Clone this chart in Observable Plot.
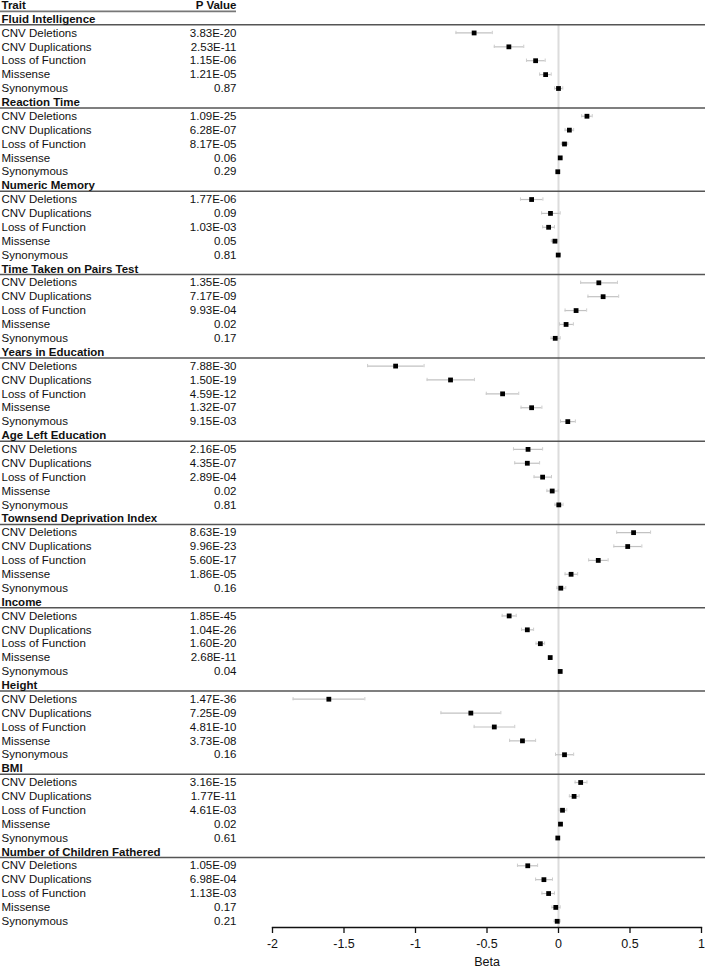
<!DOCTYPE html>
<html>
<head>
<meta charset="utf-8">
<script src="https://cdn.jsdelivr.net/npm/d3@7"></script>
<script src="https://cdn.jsdelivr.net/npm/@observablehq/plot@0.6"></script>
<style>
  html, body { margin: 0; padding: 0; background: #fff; }
  #chart svg { display: block; font-family: "Liberation Sans", Arial, sans-serif; }
</style>
</head>
<body>
<div id="chart"></div>
<script>
const traits = [
  "Fluid Intelligence", "Reaction Time", "Numeric Memory", "Time Taken on Pairs Test",
  "Years in Education", "Age Left Education", "Townsend Deprivation Index", "Income",
  "Height", "BMI", "Number of Children Fathered"
];
const variantTypes = ["CNV Deletions", "CNV Duplications", "Loss of Function", "Missense", "Synonymous"];
const pValues = [
  ["3.83E-20", "2.53E-11", "1.15E-06", "1.21E-05", "0.87"],
  ["1.09E-25", "6.28E-07", "8.17E-05", "0.06", "0.29"],
  ["1.77E-06", "0.09", "1.03E-03", "0.05", "0.81"],
  ["1.35E-05", "7.17E-09", "9.93E-04", "0.02", "0.17"],
  ["7.88E-30", "1.50E-19", "4.59E-12", "1.32E-07", "9.15E-03"],
  ["2.16E-05", "4.35E-07", "2.89E-04", "0.02", "0.81"],
  ["8.63E-19", "9.96E-23", "5.60E-17", "1.86E-05", "0.16"],
  ["1.85E-45", "1.04E-26", "1.60E-20", "2.68E-11", "0.04"],
  ["1.47E-36", "7.25E-09", "4.81E-10", "3.73E-08", "0.16"],
  ["3.16E-15", "1.77E-11", "4.61E-03", "0.02", "0.61"],
  ["1.05E-09", "6.98E-04", "1.13E-03", "0.17", "0.21"]
];
const betas = [
  [-0.59, -0.347, -0.16, -0.09, 0.0],
  [0.199, 0.076, 0.042, 0.012, -0.005],
  [-0.188, -0.056, -0.069, -0.025, -0.002],
  [0.282, 0.312, 0.123, 0.053, -0.023],
  [-1.139, -0.755, -0.391, -0.188, 0.065],
  [-0.213, -0.218, -0.111, -0.044, 0.002],
  [0.525, 0.484, 0.278, 0.088, 0.016],
  [-0.345, -0.218, -0.127, -0.058, 0.012],
  [-1.606, -0.613, -0.449, -0.252, 0.042],
  [0.155, 0.109, 0.028, 0.014, -0.005],
  [-0.215, -0.102, -0.069, -0.019, -0.009]
];
const lowerCI = [
  [-0.717, -0.449, -0.224, -0.132, -0.028],
  [0.162, 0.046, 0.02, 0.002, -0.015],
  [-0.266, -0.118, -0.111, -0.05, -0.014],
  [0.155, 0.206, 0.046, 0.007, -0.052],
  [-1.335, -0.919, -0.505, -0.262, 0.014],
  [-0.315, -0.306, -0.171, -0.081, -0.025],
  [0.407, 0.387, 0.211, 0.046, -0.011],
  [-0.394, -0.259, -0.157, -0.068, 0.006],
  [-1.856, -0.822, -0.59, -0.342, -0.021],
  [0.116, 0.076, 0.005, 0.004, -0.014],
  [-0.287, -0.16, -0.116, -0.046, -0.03]
];
const upperCI = [
  [-0.463, -0.243, -0.093, -0.051, 0.03],
  [0.236, 0.106, 0.065, 0.022, 0.005],
  [-0.109, 0.012, -0.028, -0.005, 0.012],
  [0.412, 0.421, 0.197, 0.104, 0.012],
  [-0.94, -0.588, -0.278, -0.116, 0.118],
  [-0.111, -0.132, -0.049, -0.002, 0.032],
  [0.644, 0.583, 0.347, 0.134, 0.051],
  [-0.296, -0.174, -0.097, -0.048, 0.018],
  [-1.354, -0.403, -0.306, -0.16, 0.106],
  [0.199, 0.144, 0.058, 0.024, 0.004],
  [-0.146, -0.042, -0.028, 0.012, 0.012]
];
const xTicks = [-2, -1.5, -1, -0.5, 0, 0.5, 1];

// Build row table: row 0 = column header, then per trait one heading row + 5 variant rows
const headings = traits.map((t, i) => ({label: t, row: 1 + 6 * i}));
const rows = [];
traits.forEach((t, i) => {
  variantTypes.forEach((v, j) => {
    rows.push({
      trait: t, type: v, p: pValues[i][j],
      beta: betas[i][j], lo: lowerCI[i][j], hi: upperCI[i][j],
      row: 2 + 6 * i + j
    });
  });
});
const nRows = 1 + 6 * traits.length; // 67
const W = 705, H = 969;
const ML = 272, MR = 4;
const font = 11.5;

const chart = Plot.plot({
  width: W,
  height: H,
  marginLeft: ML,
  marginRight: MR,
  marginTop: 24,
  marginBottom: 42,
  style: {fontFamily: "'Liberation Sans', Arial, sans-serif", fontSize: "12px", color: "#111", background: "#fff"},
  x: {domain: [-2, 1]},
  y: {domain: [0, nRows - 1], range: [4.7, 920.8], axis: null},
  marks: [
    // zero reference line
    Plot.ruleX([0], {stroke: "#dcdcdc", strokeWidth: 2}),
    // header underline
    Plot.ruleY([0.45], {stroke: "#777", strokeWidth: 1.7, insetLeft: -ML, insetRight: (W - MR) - 236}),
    // trait separator lines
    Plot.ruleY(headings, {y: d => d.row + 0.41, stroke: "#555", strokeWidth: 1.5, insetLeft: -ML, insetRight: -MR}),
    // column headers
    Plot.text(["Trait"], {y: () => 0, frameAnchor: "left", dx: -ML + 1, textAnchor: "start", fontWeight: "bold", fontSize: font, fill: "#111"}),
    Plot.text(["P Value"], {y: () => 0, frameAnchor: "left", dx: 236 - ML, textAnchor: "end", fontWeight: "bold", fontSize: font, fill: "#111"}),
    // trait headings
    Plot.text(headings, {y: "row", text: "label", frameAnchor: "left", dx: -ML + 1, textAnchor: "start", fontWeight: "bold", fontSize: font, fill: "#111"}),
    // variant labels
    Plot.text(rows, {y: "row", text: "type", frameAnchor: "left", dx: -ML + 1, textAnchor: "start", fontSize: font, fill: "#111"}),
    // p values
    Plot.text(rows, {y: "row", text: "p", frameAnchor: "left", dx: 236 - ML, textAnchor: "end", fontSize: font, fill: "#111"}),
    // confidence intervals
    Plot.ruleY(rows, {y: "row", x1: "lo", x2: "hi", stroke: "#c2c2c2", strokeWidth: 1.2}),
    Plot.ruleX(rows, {x: "lo", y1: d => d.row - 0.12, y2: d => d.row + 0.12, stroke: "#cccccc", strokeWidth: 1}),
    Plot.ruleX(rows, {x: "hi", y1: d => d.row - 0.12, y2: d => d.row + 0.12, stroke: "#cccccc", strokeWidth: 1}),
    // point estimates
    Plot.dot(rows, {x: "beta", y: "row", symbol: "square", r: 2.7, fill: "#000", stroke: "none"}),
    // x axis
    Plot.frame({anchor: "bottom", stroke: "#111", strokeWidth: 1.3}),
    Plot.axisX({ticks: xTicks, tickFormat: d => String(d), tickSize: 6, tickPadding: 6, fontSize: 12.5,
                stroke: "#111", strokeWidth: 1.3, label: "Beta", labelAnchor: "center", labelArrow: "none", labelOffset: 38})
  ]
});
document.getElementById("chart").appendChild(chart);
</script>
</body>
</html>
